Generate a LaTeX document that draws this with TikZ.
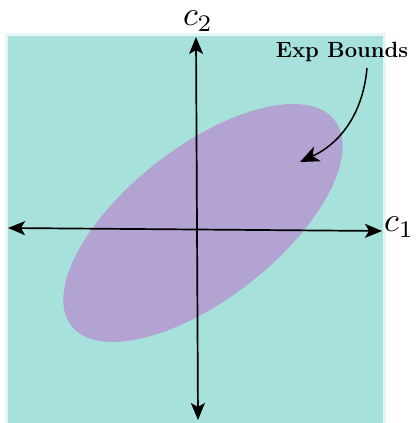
\RequirePackage{fix-cm}
\documentclass[tikz,border=0pt]{standalone}
\usepackage{graphicx}
\usepackage{xcolor}
\definecolor{Teal}{HTML}{A6E1DC}
\definecolor{PaleTeal}{HTML}{E4F6F5}
\definecolor{Lilac}{HTML}{B3A3D3}
\usepackage{tikz}
\usetikzlibrary{arrows.meta,positioning}
\tikzset{
  axis/.style={{Stealth[length=17pt,width=14pt,inset=4pt]}-{Stealth[length=17pt,width=14pt,inset=4pt]},line width=1.7pt,black},
  note/.style={-{Stealth[length=19pt,width=16pt,inset=5pt]},line width=1.5pt,black},
  axlabel/.style={inner sep=0pt}
}
\newcommand{\biglabel}[1]{\scalebox{3.4}{$#1$}}
\begin{document}
\begin{tikzpicture}[x=1pt,y=1pt]
  \useasboundingbox (0,0) rectangle (416,423);
  % background square
  \fill[PaleTeal] (5,0) rectangle (386,390);
  \fill[Teal] (8,0) rectangle (383,387);
  % region
  \fill[Lilac] (203,200) ellipse[x radius=167,y radius=76,rotate=38];
  % axes
  \coordinate (w) at (8,195);
  \coordinate (e) at (382,192);
  \coordinate (n) at (196,386);
  \coordinate (s) at (198,3);
  \draw[axis] (w) -- (e);
  \draw[axis] (s) -- (n);
  \node[axlabel,anchor=base west] (c1) at (384,191) {\biglabel{c_1}};
  \node[axlabel,anchor=base] (c2) at (198,397) {\biglabel{c_2}};
  % annotation
  \node[font=\fontsize{22}{26}\selectfont\bfseries,inner sep=0pt,anchor=base] (exp) at (342,365) {Exp Bounds};
  \coordinate (from) at (367,355);
  \coordinate (tip) at (300,261);
  \draw[note] (from) to[out=-95,in=25] (tip);
\end{tikzpicture}
\end{document}
